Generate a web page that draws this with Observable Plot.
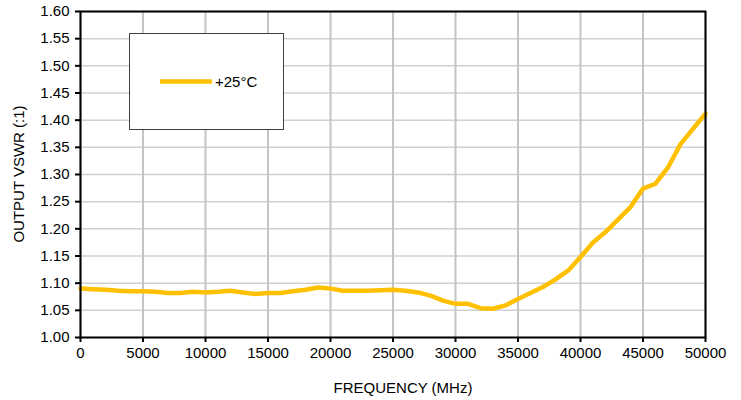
<!DOCTYPE html>
<html>
<head>
<meta charset="utf-8">
<script src="https://cdn.jsdelivr.net/npm/d3@7"></script>
<script src="https://cdn.jsdelivr.net/npm/@observablehq/plot@0.6"></script>
<style>
  html, body { margin: 0; padding: 0; background: #fff; }
  #chart { position: relative; width: 741px; height: 400px; }
  svg { font-family: "Liberation Sans", Arial, sans-serif; }
</style>
</head>
<body>
<div id="chart"></div>
<script>
// Data
const frequencyMHz = [0,1000,2000,3000,4000,5000,6000,7000,8000,9000,10000,11000,12000,13000,14000,15000,16000,17000,18000,19000,20000,21000,22000,23000,24000,25000,26000,27000,28000,29000,30000,31000,32000,33000,34000,35000,36000,37000,38000,39000,40000,41000,42000,43000,44000,45000,46000,47000,48000,49000,50000];
const vswr25C = [1.090,1.089,1.088,1.086,1.085,1.085,1.084,1.082,1.082,1.084,1.083,1.084,1.086,1.083,1.080,1.082,1.082,1.085,1.088,1.092,1.090,1.086,1.086,1.086,1.087,1.088,1.086,1.083,1.077,1.068,1.062,1.062,1.054,1.053,1.059,1.071,1.082,1.093,1.107,1.123,1.148,1.175,1.194,1.217,1.240,1.274,1.283,1.313,1.356,1.384,1.412];
const xTicks = [0,5000,10000,15000,20000,25000,30000,35000,40000,45000,50000];
const yTicks = [1.00,1.05,1.10,1.15,1.20,1.25,1.30,1.35,1.40,1.45,1.50,1.55,1.60];
const seriesName = "+25°C";
const xLabel = "FREQUENCY (MHz)";
const yLabel = "OUTPUT VSWR (:1)";

const rows = frequencyMHz.map((f, i) => ({f, v: vswr25C[i]}));
const lineColor = "#FFC000";

const chart = Plot.plot({
  width: 741,
  height: 400,
  marginLeft: 80,
  marginRight: 36,
  marginTop: 11,
  marginBottom: 63,
  style: {fontFamily: '"Liberation Sans", Arial, sans-serif', fontSize: "15px", color: "#000", background: "#fff"},
  x: {type: "linear", domain: [0, 50000]},
  y: {type: "linear", domain: [1.0, 1.6]},
  marks: [
    Plot.gridY(yTicks, {stroke: "#d0d0d0", strokeOpacity: 1, strokeWidth: 1.5}),
    Plot.gridX(xTicks, {stroke: "#c4c4c4", strokeOpacity: 1, strokeWidth: 2}),
    Plot.line(rows, {x: "f", y: "v", stroke: lineColor, strokeWidth: 4.5, curve: "linear"}),
    Plot.frame({stroke: "#000", strokeWidth: 2}),
    Plot.axisY(yTicks, {
      tickFormat: d3.format(".2f"), tickSize: 5, tickPadding: 6, fontSize: 15,
      label: null, stroke: "#000", strokeWidth: 2
    }),
    Plot.axisX(xTicks, {
      tickFormat: d3.format("d"), tickSize: 5, tickPadding: 5, fontSize: 15,
      label: null, stroke: "#000", strokeWidth: 2
    })
  ]
});

document.getElementById("chart").appendChild(chart);

const svg = d3.select(chart);

// Axis titles
svg.append("text")
  .attr("x", 403).attr("y", 388).attr("dy", "0.35em")
  .attr("text-anchor", "middle").attr("font-size", 15).attr("fill", "#000")
  .text(xLabel);
svg.append("text")
  .attr("transform", "translate(19,174) rotate(-90)")
  .attr("dy", "0.35em")
  .attr("text-anchor", "middle").attr("font-size", 15).attr("fill", "#000")
  .text(yLabel);

// Legend box drawn over the plot area
const lg = svg.append("g").attr("class", "legend");
lg.append("rect")
  .attr("x", 129.5).attr("y", 33.5).attr("width", 154).attr("height", 96)
  .attr("fill", "#fff").attr("stroke", "#404040").attr("stroke-width", 1);
lg.append("line")
  .attr("x1", 160).attr("x2", 212).attr("y1", 81.5).attr("y2", 81.5)
  .attr("stroke", lineColor).attr("stroke-width", 4.5);
lg.append("text")
  .attr("x", 215).attr("y", 82).attr("dy", "0.35em")
  .attr("text-anchor", "start")
  .attr("font-size", 15).attr("fill", "#000")
  .text(seriesName);
</script>
</body>
</html>
